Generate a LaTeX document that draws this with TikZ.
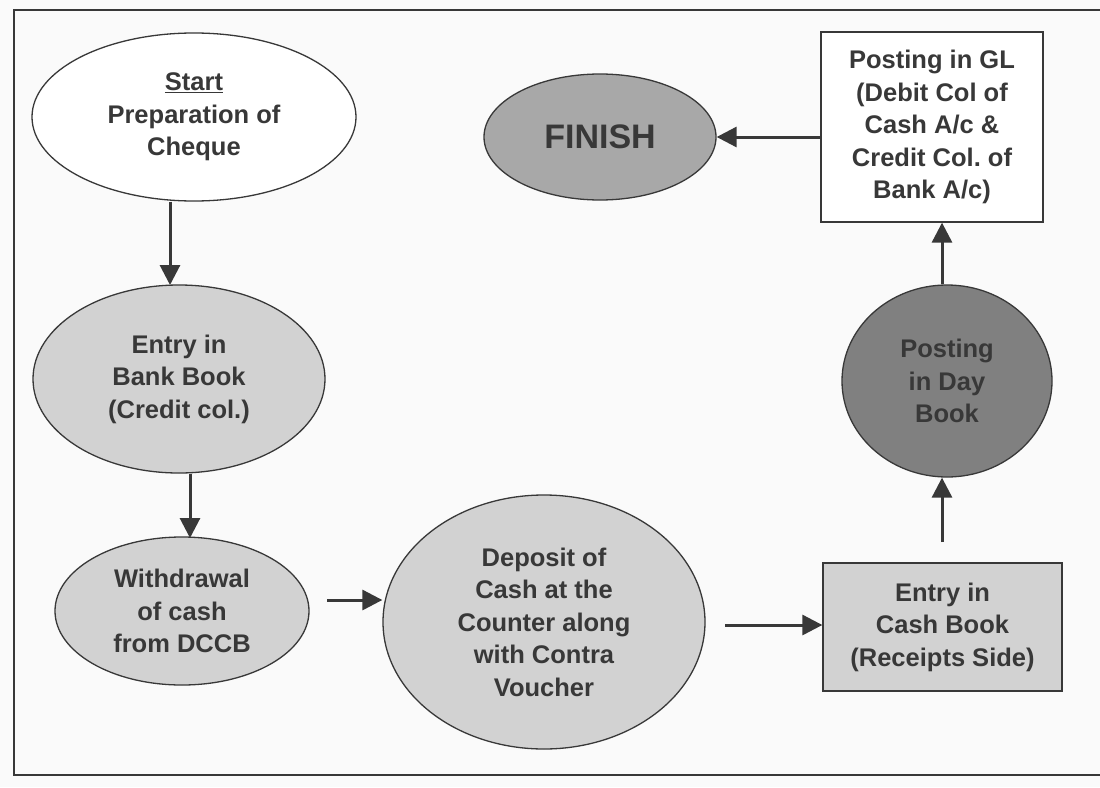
\documentclass[tikz,border=0pt]{standalone}
\usepackage{fontspec}
\setmainfont{Liberation Sans}
\frenchspacing
\usetikzlibrary{shapes.geometric,arrows.meta}
\definecolor{ink}{HTML}{383838}
\definecolor{paper}{HTML}{FAFAFA}
\definecolor{lightfill}{HTML}{D2D2D2}
\definecolor{midfill}{HTML}{A8A8A8}
\definecolor{darkfill}{HTML}{808080}
\begin{document}
\begin{tikzpicture}[x=1pt,y=-1pt,
  every node/.style={font=\fontsize{25.5}{32.5}\selectfont\bfseries, text=ink, align=center, inner sep=0pt},
  oval/.style={ellipse, draw=ink, line width=1.3pt},
  panel/.style={rectangle, draw=ink, line width=1.3pt},
  flow/.style={draw=ink, line width=3pt, -{Triangle[width=20pt,length=20pt]}}]
  % canvas
  \fill[paper] (0,0) rectangle (1100,787);
  \useasboundingbox (0,0) rectangle (1100,787);
  % outer frame (open on the right)
  \draw[ink, line width=2.5pt] (1100,10) -- (14,10) -- (14,775) -- (1100,775);

  % steps
  \node[oval, fill=white, minimum width=324pt, minimum height=168pt] (start) at (194,117)
    {\underline{Start}\\Preparation of\\Cheque};
  \node[oval, fill=lightfill, minimum width=292pt, minimum height=188pt] (bank) at (179,379)
    {Entry in\\Bank Book\\(Credit col.)};
  \node[oval, fill=lightfill, minimum width=254pt, minimum height=148pt] (withdraw) at (182,611)
    {Withdrawal\\of cash\\from DCCB};
  \node[oval, fill=lightfill, minimum width=322pt, minimum height=254pt] (deposit) at (544,622)
    {Deposit of\\Cash at the\\Counter along\\with Contra\\Voucher};
  \node[panel, fill=lightfill, minimum width=239pt, minimum height=128pt] (cash) at (942.5,627)
    {Entry in\\Cash Book\\(Receipts Side)};
  \node[oval, fill=darkfill, minimum width=210pt, minimum height=192pt] (day) at (947,381)
    {Posting\\in Day\\Book};
  \node[panel, fill=white, minimum width=222pt, minimum height=190pt] (gl) at (932,127)
    {Posting in GL\\(Debit Col of\\Cash A/c \&\\Credit Col. of\\Bank A/c)};
  \node[oval, fill=midfill, minimum width=232pt, minimum height=126pt,
        font=\fontsize{34}{40}\selectfont\bfseries] (finish) at (600,137) {FINISH};

  % connectors
  \draw[flow] (start.south -| 170,0) -- (170,285);
  \draw[flow] (bank.south -| 190,0) -- (190,538);
  \draw[flow] (327,600) -- (deposit.west |- 0,600);
  \draw[flow] (725,625) -- (cash.west |- 0,625);
  \draw[flow] (942,542) -- (day.south -| 942,0);
  \draw[flow] (day.north -| 942,0) -- (gl.south -| 942,0);
  \draw[flow] (gl.west |- 0,137) -- (finish.east);
\end{tikzpicture}
\end{document}
